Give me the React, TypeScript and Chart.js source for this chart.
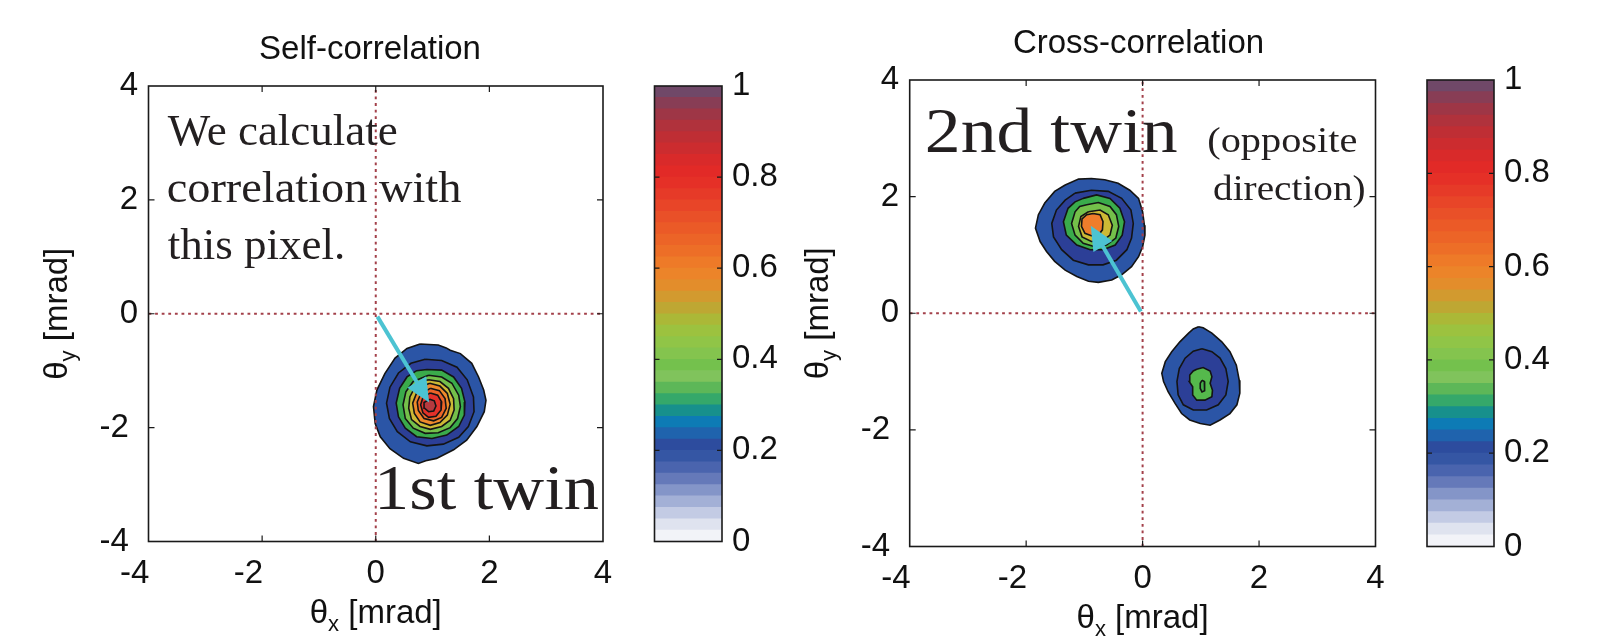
import React, { useEffect, useRef } from 'react';
import { Chart, registerables } from 'chart.js';

Chart.register(...registerables);

const SANS = '"Liberation Sans", Arial, Helvetica, sans-serif';
const SERIF = '"Liberation Serif", "Times New Roman", serif';

// ---------------- axes / labels ----------------
const AXIS_TICKS = [-4, -2, 0, 2, 4];
const AXIS_TICK_LABELS = ['-4', '-2', '0', '2', '4'];
const CBAR_TICKS = [0, 0.2, 0.4, 0.6, 0.8, 1];
const CBAR_TICK_LABELS = ['0', '0.2', '0.4', '0.6', '0.8', '1'];
const PANEL_TITLES = ['Self-correlation', 'Cross-correlation'];
const AXIS_SYMBOL = 'θ';
const X_SUB = 'x';
const Y_SUB = 'y';
const AXIS_UNIT = ' [mrad]';

// colormap, from value 0 (bottom) to value 1 (top)
const CMAP = [
  '#f2f3f8', '#dfe3ef', '#c3cbe4', '#a3b0d6', '#8495c8', '#6579b9', '#4a64ae', '#3556a4',
  '#2d4c9e', '#1f63ad', '#0d7bb5', '#17908c', '#35a86a', '#5db758', '#80c35c', '#74c14d',
  '#84c44e', '#90c547', '#9cc23f', '#abb837', '#bea733', '#d29a2f', '#e38d2b', '#ec8429',
  '#ee7a28', '#ed6e27', '#ec6427', '#eb5a27', '#e95028', '#e84528', '#e63a28', '#e53027',
  '#e22a27', '#d92a2a', '#cc2c2f', '#bf2e34', '#b0323c', '#9e3646', '#883d55', '#704868',
];

// ---------------- self-correlation contours (outer -> inner) ----------------
const SELF_C1 = [[0.78,-0.53],[1.10,-0.55],[1.24,-0.60],[1.31,-0.64],[1.49,-0.70],[1.69,-0.87],[1.81,-1.11],[1.90,-1.34],[1.94,-1.52],[1.91,-1.72],[1.78,-1.98],[1.60,-2.22],[1.37,-2.39],[1.07,-2.54],[0.88,-2.58],[0.75,-2.63],[0.49,-2.54],[0.25,-2.37],[0.08,-2.16],[-0.01,-1.93],[-0.04,-1.63],[0.02,-1.34],[0.16,-1.05],[0.34,-0.78],[0.55,-0.61]];
const SELF_C2 = [[0.87,-0.80],[1.16,-0.82],[1.43,-0.94],[1.61,-1.16],[1.72,-1.46],[1.73,-1.72],[1.63,-1.98],[1.46,-2.17],[1.19,-2.29],[0.90,-2.32],[0.61,-2.25],[0.38,-2.07],[0.24,-1.84],[0.19,-1.57],[0.25,-1.29],[0.40,-1.04],[0.62,-0.87]];
const SELF_C3 = [[0.90,-0.98],[1.16,-0.99],[1.37,-1.11],[1.51,-1.31],[1.57,-1.55],[1.56,-1.78],[1.46,-1.98],[1.25,-2.13],[0.99,-2.19],[0.72,-2.16],[0.52,-2.01],[0.40,-1.81],[0.36,-1.57],[0.42,-1.31],[0.55,-1.11],[0.72,-1.00]];
const SELF_C4 = [[0.93,-1.08],[1.16,-1.11],[1.34,-1.22],[1.46,-1.43],[1.49,-1.63],[1.44,-1.84],[1.31,-2.00],[1.10,-2.09],[0.87,-2.10],[0.66,-2.01],[0.52,-1.84],[0.48,-1.60],[0.53,-1.37],[0.66,-1.19]];
const SELF_C5 = [[0.93,-1.16],[1.13,-1.19],[1.28,-1.31],[1.37,-1.49],[1.38,-1.69],[1.31,-1.87],[1.16,-1.98],[0.96,-2.03],[0.78,-1.98],[0.63,-1.86],[0.58,-1.66],[0.60,-1.46],[0.69,-1.29],[0.81,-1.19]];
const SELF_C6 = [[0.95,-1.22],[1.13,-1.27],[1.26,-1.40],[1.31,-1.59],[1.26,-1.78],[1.13,-1.91],[0.96,-1.96],[0.78,-1.90],[0.68,-1.75],[0.65,-1.57],[0.72,-1.39],[0.83,-1.27]];
const SELF_C7 = [[0.96,-1.31],[1.12,-1.35],[1.22,-1.49],[1.24,-1.66],[1.16,-1.82],[1.02,-1.88],[0.85,-1.84],[0.75,-1.70],[0.73,-1.55],[0.79,-1.41]];
const SELF_C8 = [[0.96,-1.39],[1.09,-1.43],[1.16,-1.55],[1.15,-1.69],[1.06,-1.80],[0.93,-1.82],[0.83,-1.74],[0.79,-1.60],[0.83,-1.47]];
const SELF_C9 = [[0.95,-1.50],[1.03,-1.53],[1.06,-1.62],[1.02,-1.71],[0.93,-1.72],[0.86,-1.66],[0.85,-1.56]];
const SELF_FILLS = ['#2b55a6', '#2c3f97', '#3aab4b', '#74c04a', '#cdb935', '#ef8a2b', '#ec6428', '#e3312a', '#b63a3f'];

// ---------------- cross-correlation contours ----------------
// 2nd twin (upper-left blob), outer -> inner
const CROSS_A1 = [[-1.33,2.20],[-1.10,2.30],[-0.88,2.31],[-0.65,2.29],[-0.42,2.23],[-0.22,2.11],[-0.07,1.97],[0.00,1.74],[0.03,1.51],[0.04,1.34],[0.00,1.14],[-0.07,0.97],[-0.19,0.80],[-0.36,0.66],[-0.53,0.57],[-0.76,0.53],[-0.93,0.55],[-1.13,0.63],[-1.33,0.74],[-1.51,0.89],[-1.65,1.06],[-1.76,1.23],[-1.84,1.46],[-1.79,1.69],[-1.68,1.89],[-1.51,2.09]];
const CROSS_A2 = [[-1.16,2.06],[-0.88,2.11],[-0.59,2.09],[-0.36,1.97],[-0.20,1.77],[-0.16,1.54],[-0.19,1.29],[-0.27,1.09],[-0.45,0.91],[-0.68,0.83],[-0.93,0.83],[-1.19,0.91],[-1.39,1.09],[-1.53,1.31],[-1.56,1.54],[-1.48,1.77],[-1.33,1.94]];
const CROSS_A3 = [[-1.02,1.97],[-0.79,2.03],[-0.56,1.97],[-0.39,1.80],[-0.31,1.57],[-0.35,1.34],[-0.47,1.17],[-0.68,1.09],[-0.90,1.09],[-1.13,1.17],[-1.31,1.34],[-1.36,1.57],[-1.28,1.80],[-1.16,1.91]];
const CROSS_A4 = [[-0.96,1.86],[-0.76,1.90],[-0.56,1.83],[-0.45,1.69],[-0.41,1.49],[-0.46,1.29],[-0.62,1.17],[-0.82,1.14],[-1.02,1.20],[-1.16,1.34],[-1.22,1.54],[-1.16,1.74],[-1.08,1.83]];
const CROSS_A5 = [[-0.93,1.74],[-0.73,1.77],[-0.59,1.69],[-0.52,1.51],[-0.56,1.34],[-0.69,1.24],[-0.88,1.23],[-1.04,1.31],[-1.10,1.49],[-1.06,1.66]];
const CROSS_A6 = [[-0.85,1.71],[-0.73,1.69],[-0.68,1.57],[-0.69,1.43],[-0.76,1.34],[-0.88,1.33],[-0.99,1.37],[-1.05,1.49],[-1.04,1.62],[-0.96,1.69]];
const CROSS_A_FILLS = ['#2b55a6', '#2c3f97', '#3aab4b', '#74c04a', '#cdb935', '#ef7d2b'];
// lower-right blob, outer -> inner
const CROSS_B1 = [[0.96,-0.23],[1.04,-0.25],[1.19,-0.34],[1.36,-0.49],[1.50,-0.66],[1.61,-0.89],[1.66,-1.15],[1.67,-1.37],[1.62,-1.57],[1.50,-1.72],[1.33,-1.83],[1.16,-1.92],[0.99,-1.89],[0.81,-1.83],[0.67,-1.72],[0.56,-1.55],[0.44,-1.35],[0.36,-1.17],[0.33,-1.03],[0.39,-0.83],[0.50,-0.66],[0.64,-0.49],[0.79,-0.34],[0.87,-0.27]];
const CROSS_B2 = [[1.02,-0.61],[1.19,-0.66],[1.33,-0.77],[1.43,-0.95],[1.47,-1.17],[1.43,-1.40],[1.30,-1.57],[1.10,-1.66],[0.87,-1.66],[0.70,-1.57],[0.61,-1.40],[0.59,-1.17],[0.63,-0.95],[0.73,-0.77],[0.87,-0.65]];
const CROSS_B3 = [[0.93,-0.96],[1.04,-0.93],[1.16,-0.99],[1.19,-1.09],[1.16,-1.20],[1.20,-1.32],[1.19,-1.43],[1.07,-1.49],[0.93,-1.49],[0.86,-1.40],[0.86,-1.26],[0.80,-1.17],[0.81,-1.06],[0.87,-0.99]];
const CROSS_B4 = [[1.02,-1.15],[1.06,-1.17],[1.07,-1.26],[1.06,-1.33],[1.02,-1.35],[0.99,-1.29],[0.99,-1.20]];
const CROSS_B_FILLS = ['#2b55a6', '#2c3f97', '#55b94c', '#45ae4a'];

// ---------------- annotations ----------------
const SELF_ARROW = [[0.03, -0.05], [0.94, -1.56]];
const CROSS_ARROW = [[-0.03, 0.03], [-0.89, 1.50]];
const SELF_NOTES = ['We calculate', 'correlation with', 'this pixel.', '1st twin'];
const CROSS_NOTES = ['2nd twin', '(opposite', 'direction)'];

// ---------------- plugins ----------------
const contourFillPlugin = {
  id: 'contourFill',
  beforeDatasetDraw(chart: any, args: any) {
    const ds: any = chart.data.datasets[args.index];
    if (!ds.contourFill) return;
    const pts = args.meta.data;
    if (!pts || !pts.length) return;
    const ctx = chart.ctx;
    const a = chart.chartArea;
    ctx.save();
    ctx.beginPath();
    ctx.rect(a.left, a.top, a.right - a.left, a.bottom - a.top);
    ctx.clip();
    ctx.beginPath();
    pts.forEach((p: any, i: number) => (i ? ctx.lineTo(p.x, p.y) : ctx.moveTo(p.x, p.y)));
    ctx.closePath();
    ctx.fillStyle = ds.contourFill;
    ctx.fill();
    ctx.restore();
  },
};

function drawAxisLabel(ctx: CanvasRenderingContext2D, cx: number, cy: number, rotate: boolean, sub: string) {
  ctx.save();
  ctx.translate(cx, cy);
  if (rotate) ctx.rotate(-Math.PI / 2);
  ctx.fillStyle = '#111';
  ctx.textAlign = 'left';
  ctx.textBaseline = 'alphabetic';
  const big = `33px ${SANS}`;
  const small = `22px ${SANS}`;
  ctx.font = big;
  const w1 = ctx.measureText(AXIS_SYMBOL).width;
  const w3 = ctx.measureText(AXIS_UNIT).width;
  ctx.font = small;
  const w2 = ctx.measureText(sub).width;
  const x0 = -(w1 + w2 + w3) / 2;
  ctx.font = big;
  ctx.fillText(AXIS_SYMBOL, x0, 0);
  ctx.font = small;
  ctx.fillText(sub, x0 + w1, 8);
  ctx.font = big;
  ctx.fillText(AXIS_UNIT, x0 + w1 + w2, 0);
  ctx.restore();
}

type Note = { text: string; x: number; y: number; size: number; sx: number };

function framePlugin(arrow: number[][], notes: Note[]) {
  return {
    id: 'frame',
    afterDatasetsDraw(chart: any) {
      const ctx: CanvasRenderingContext2D = chart.ctx;
      const a = chart.chartArea;
      const xs = chart.scales.x;
      const ys = chart.scales.y;
      ctx.save();
      // annotation text
      ctx.fillStyle = '#231f20';
      ctx.textAlign = 'left';
      ctx.textBaseline = 'alphabetic';
      for (const t of notes) {
        ctx.save();
        ctx.translate(xs.getPixelForValue(t.x), ys.getPixelForValue(t.y));
        ctx.scale(t.sx, 1);
        ctx.font = `${t.size}px ${SERIF}`;
        ctx.fillText(t.text, 0, 0);
        ctx.restore();
      }
      // arrow
      const x1 = xs.getPixelForValue(arrow[0][0]);
      const y1 = ys.getPixelForValue(arrow[0][1]);
      const x2 = xs.getPixelForValue(arrow[1][0]);
      const y2 = ys.getPixelForValue(arrow[1][1]);
      const ang = Math.atan2(y2 - y1, x2 - x1);
      const hl = 24;
      const hw = 22;
      const bx = x2 - hl * Math.cos(ang);
      const by = y2 - hl * Math.sin(ang);
      ctx.strokeStyle = '#4cc3d2';
      ctx.fillStyle = '#4cc3d2';
      ctx.lineWidth = 4;
      ctx.beginPath();
      ctx.moveTo(x1, y1);
      ctx.lineTo(bx + 2 * Math.cos(ang), by + 2 * Math.sin(ang));
      ctx.stroke();
      ctx.beginPath();
      ctx.moveTo(x2, y2);
      ctx.lineTo(bx - (hw / 2) * Math.sin(ang), by + (hw / 2) * Math.cos(ang));
      ctx.lineTo(bx + (hw / 2) * Math.sin(ang), by - (hw / 2) * Math.cos(ang));
      ctx.closePath();
      ctx.fill();
      // frame box
      ctx.strokeStyle = '#1a1a1a';
      ctx.lineWidth = 1.6;
      ctx.strokeRect(a.left, a.top, a.right - a.left, a.bottom - a.top);
      // inward ticks
      ctx.lineWidth = 1.2;
      ctx.beginPath();
      for (let i = 1; i < AXIS_TICKS.length - 1; i++) {
        const px = xs.getPixelForValue(AXIS_TICKS[i]);
        const py = ys.getPixelForValue(AXIS_TICKS[i]);
        ctx.moveTo(px, a.bottom); ctx.lineTo(px, a.bottom - 6);
        ctx.moveTo(px, a.top); ctx.lineTo(px, a.top + 6);
        ctx.moveTo(a.left, py); ctx.lineTo(a.left + 6, py);
        ctx.moveTo(a.right, py); ctx.lineTo(a.right - 6, py);
      }
      ctx.stroke();
      // axis titles
      drawAxisLabel(ctx, (a.left + a.right) / 2, a.bottom + 81, false, X_SUB);
      drawAxisLabel(ctx, a.left - 82, (a.top + a.bottom) / 2, true, Y_SUB);
      ctx.restore();
    },
  };
}

const cbarFramePlugin = {
  id: 'cbarFrame',
  afterDatasetsDraw(chart: any) {
    const ctx: CanvasRenderingContext2D = chart.ctx;
    const a = chart.chartArea;
    const ys = chart.scales.y;
    ctx.save();
    ctx.strokeStyle = '#1a1a1a';
    ctx.lineWidth = 1.6;
    ctx.strokeRect(a.left, a.top, a.right - a.left, a.bottom - a.top);
    ctx.lineWidth = 1.2;
    ctx.beginPath();
    for (let i = 1; i < CBAR_TICKS.length - 1; i++) {
      const py = ys.getPixelForValue(CBAR_TICKS[i]);
      ctx.moveTo(a.left, py); ctx.lineTo(a.left + 5, py);
      ctx.moveTo(a.right, py); ctx.lineTo(a.right - 5, py);
    }
    ctx.stroke();
    ctx.restore();
  },
};

// ---------------- config builders ----------------
function contourDatasets(contours: number[][][], fills: string[]) {
  return contours
    .map((pts, i) => ({
      data: [...pts, pts[0]].map(([x, y]) => ({ x, y })),
      showLine: true,
      pointRadius: 0,
      pointHoverRadius: 0,
      borderColor: '#141414',
      borderWidth: 1.6,
      backgroundColor: fills[i],
      fill: false,
      tension: 0,
      contourFill: fills[i],
    }))
    .reverse();
}

function zeroLines() {
  const common = {
    showLine: true,
    pointRadius: 0,
    pointHoverRadius: 0,
    borderColor: '#a3404a',
    borderWidth: 2,
    borderDash: [2.8, 3.8],
    fill: false,
  };
  return [
    { ...common, data: [{ x: AXIS_TICKS[0], y: 0 }, { x: AXIS_TICKS[AXIS_TICKS.length - 1], y: 0 }] },
    { ...common, data: [{ x: 0, y: AXIS_TICKS[0] }, { x: 0, y: AXIS_TICKS[AXIS_TICKS.length - 1] }] },
  ];
}

function axisTickLabel(v: number, pad: string) {
  const i = AXIS_TICKS.indexOf(v);
  const s = i >= 0 ? AXIS_TICK_LABELS[i] : String(v);
  return v < 0 ? s + pad : s;
}

function mainConfig(p: {
  title: string; yw: number; y2w: number; xh: number; tTop: number; tBot: number;
  datasets: any[]; arrow: number[][]; notes: Note[];
}) {
  const tickFont = { family: SANS, size: 33 };
  return {
    type: 'scatter',
    data: { datasets: p.datasets },
    options: {
      responsive: false,
      animation: false,
      devicePixelRatio: 1,
      events: [],
      layout: { padding: 0, autoPadding: false },
      plugins: {
        legend: { display: false },
        tooltip: { enabled: false },
        title: {
          display: true,
          text: p.title,
          color: '#111',
          font: { family: SANS, size: 33, weight: 'normal', lineHeight: 1.2 },
          padding: { top: p.tTop, bottom: p.tBot },
        },
      },
      scales: {
        x: {
          type: 'linear',
          min: AXIS_TICKS[0],
          max: AXIS_TICKS[AXIS_TICKS.length - 1],
          afterBuildTicks: (s: any) => { s.ticks = AXIS_TICKS.map((value) => ({ value })); },
          afterFit: (s: any) => { s.height = p.xh; },
          grid: { display: false, drawTicks: false },
          border: { display: false },
          ticks: {
            padding: 12.5, color: '#111', font: tickFont, autoSkip: false, maxRotation: 0, minRotation: 0,
            callback: (v: number) => axisTickLabel(v, '   '),
          },
        },
        y: {
          type: 'linear',
          position: 'left',
          min: AXIS_TICKS[0],
          max: AXIS_TICKS[AXIS_TICKS.length - 1],
          afterBuildTicks: (s: any) => { s.ticks = AXIS_TICKS.map((value) => ({ value })); },
          afterFit: (s: any) => { s.width = p.yw; },
          grid: { display: false, drawTicks: false },
          border: { display: false },
          ticks: {
            padding: 10.5, color: '#111', font: tickFont, autoSkip: false,
            callback: (v: number) => axisTickLabel(v, ' '),
          },
        },
        // empty spacer axis on the right (keeps the title centred like the original)
        yRight: {
          type: 'linear',
          position: 'right',
          display: true,
          afterFit: (s: any) => { s.width = p.y2w; },
          grid: { display: false, drawTicks: false },
          border: { display: false },
          ticks: { display: false },
        },
      },
    },
    plugins: [contourFillPlugin, framePlugin(p.arrow, p.notes)],
  };
}

function cbarConfig(p: { pl: number; yw: number; pt: number; pb: number }) {
  return {
    type: 'bar',
    data: {
      labels: [''],
      datasets: CMAP.map((c, i) => ({
        data: [[0, (i + 1) / CMAP.length]],
        backgroundColor: c,
        borderWidth: 0,
        barPercentage: 1,
        categoryPercentage: 1,
        grouped: false,
      })),
    },
    options: {
      responsive: false,
      animation: false,
      devicePixelRatio: 1,
      events: [],
      layout: { padding: { left: p.pl, right: 0, top: p.pt, bottom: p.pb }, autoPadding: false },
      plugins: { legend: { display: false }, tooltip: { enabled: false }, title: { display: false } },
      scales: {
        x: { display: false },
        y: {
          position: 'right',
          min: 0,
          max: 1,
          afterBuildTicks: (s: any) => { s.ticks = CBAR_TICKS.map((value) => ({ value })); },
          afterFit: (s: any) => { s.width = p.yw; },
          grid: { display: false, drawTicks: false },
          border: { display: false },
          ticks: {
            padding: 10, color: '#111', font: { family: SANS, size: 33 },
            callback: (v: number) => {
              const i = CBAR_TICKS.indexOf(v);
              return i >= 0 ? CBAR_TICK_LABELS[i] : String(v);
            },
          },
        },
      },
    },
    plugins: [cbarFramePlugin],
  };
}

const H = 636;

function ChartCanvas({ make, left, width }: { make: () => any; left: number; width: number }) {
  const ref = useRef<HTMLCanvasElement | null>(null);
  useEffect(() => {
    if (!ref.current) return;
    const chart = new Chart(ref.current, make());
    return () => chart.destroy();
  }, []);
  return (
    <canvas
      ref={ref}
      width={width}
      height={H}
      style={{ position: 'absolute', left, top: 0, width, height: H }}
    />
  );
}

export default function App() {
  const selfMain = () =>
    mainConfig({
      title: PANEL_TITLES[0], yw: 148.5, y2w: 137, xh: 94.5, tTop: 29.7, tBot: 16.7,
      datasets: [
        ...zeroLines(),
        ...contourDatasets([SELF_C1, SELF_C2, SELF_C3, SELF_C4, SELF_C5, SELF_C6, SELF_C7, SELF_C8, SELF_C9], SELF_FILLS),
      ],
      arrow: SELF_ARROW,
      notes: [
        { text: SELF_NOTES[0], x: -3.66, y: 2.96, size: 45, sx: 1.0 },
        { text: SELF_NOTES[1], x: -3.68, y: 1.96, size: 45, sx: 1.03 },
        { text: SELF_NOTES[2], x: -3.66, y: 0.96, size: 45, sx: 1.0 },
        { text: SELF_NOTES[3], x: -0.03, y: -3.43, size: 64, sx: 1.1 },
      ],
    });
  const crossMain = () =>
    mainConfig({
      title: PANEL_TITLES[1], yw: 129.7, y2w: 121.5, xh: 89.5, tTop: 23.7, tBot: 16.7,
      datasets: [
        ...zeroLines(),
        ...contourDatasets([CROSS_A1, CROSS_A2, CROSS_A3, CROSS_A4, CROSS_A5, CROSS_A6], CROSS_A_FILLS),
        ...contourDatasets([CROSS_B1, CROSS_B2, CROSS_B3, CROSS_B4], CROSS_B_FILLS),
      ],
      arrow: CROSS_ARROW,
      notes: [
        { text: CROSS_NOTES[0], x: -3.74, y: 2.77, size: 64, sx: 1.12 },
        { text: CROSS_NOTES[1], x: 1.11, y: 2.77, size: 36, sx: 1.12 },
        { text: CROSS_NOTES[2], x: 1.21, y: 1.94, size: 36, sx: 1.09 },
      ],
    });
  return (
    <div style={{ position: 'absolute', left: 0, top: 0, width: 1600, height: H, background: '#fff', overflow: 'hidden' }}>
      <ChartCanvas make={selfMain} left={0} width={740} />
      <ChartCanvas make={() => cbarConfig({ pl: 14.5, yw: 78, pt: 86, pb: 94.5 })} left={640} width={160} />
      <ChartCanvas make={crossMain} left={780} width={717} />
      <ChartCanvas make={() => cbarConfig({ pl: 7, yw: 106, pt: 80, pb: 89.5 })} left={1420} width={180} />
    </div>
  );
}
